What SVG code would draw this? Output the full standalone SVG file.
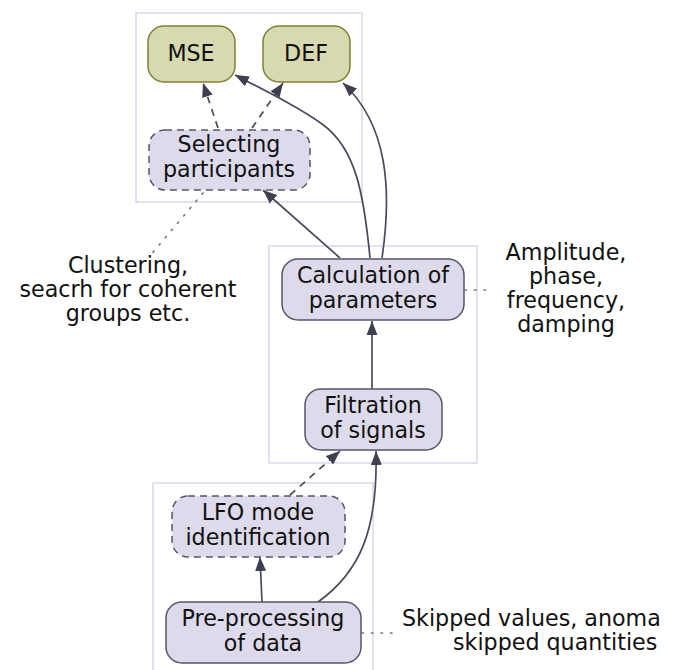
<svg xmlns="http://www.w3.org/2000/svg" width="674" height="670" viewBox="0 0 674 670">
<style>
text{font-family:"DejaVu Sans","Liberation Sans",sans-serif;font-size:22.2px;fill:#111;text-anchor:middle}
.cl{fill:none;stroke:#d9d8ec;stroke-width:1.5}
.n{fill:#dddbeb;stroke:#55556a;stroke-width:1.5}
.d{stroke-dasharray:7,5}
.g{fill:#d8d9b0;stroke:#7f8034;stroke-width:1.5}
.e{fill:none;stroke:#4a4a5c;stroke-width:1.7}
.ed{stroke-dasharray:7,6}
.dot{fill:none;stroke:#777;stroke-width:1.7;stroke-dasharray:1.5,8;stroke-linecap:round}
.ann{text-anchor:start}
</style>
<defs>
<marker id="ah" markerUnits="userSpaceOnUse" markerWidth="16" markerHeight="12" refX="14" refY="6" orient="auto">
<path d="M0,0.5 L14,6 L0,11.5 Z" fill="#3f3f52"/>
</marker>
</defs>
<g id="clusters">
<rect class="cl" x="136" y="13" width="226" height="189"/>
<rect class="cl" x="269" y="246" width="208" height="217"/>
<rect class="cl" x="153" y="483" width="220" height="200"/>
</g>
<g id="connectors">
<path class="e ed" d="M218,128 L203,83" marker-end="url(#ah)"/>
<path class="e ed" d="M252,128 L283,83" marker-end="url(#ah)"/>
<path class="e" d="M370,258 C364,195 356,148 322,124 C300,108 268,92 235,75" marker-end="url(#ah)"/>
<path class="e" d="M382,258 C392,190 388,125 343,83" marker-end="url(#ah)"/>
<path class="e" d="M340,258 L263,190" marker-end="url(#ah)"/>
<path class="e" d="M372,389 L372,321" marker-end="url(#ah)"/>
<path class="e ed" d="M290,495 L340,451" marker-end="url(#ah)"/>
<path class="e" d="M318,602 C360,572 378,530 376,451" marker-end="url(#ah)"/>
<path class="e" d="M262,602 L260,557" marker-end="url(#ah)"/>
<path class="dot" d="M203,193 L149,257"/>
<path class="dot" d="M465,290 L492,290"/>
<path class="dot" d="M362,633 L392,633"/>
</g>
<g id="MSE"><rect class="g" x="148" y="26" width="87" height="56" rx="16"/><text x="191" y="61">MSE</text></g>
<g id="DEF"><rect class="g" x="263" y="26" width="87" height="56" rx="16"/><text x="306" y="61">DEF</text></g>
<g id="selecting"><rect class="n d" x="149" y="130" width="161" height="60" rx="16"/><text x="229" y="152">Selecting</text><text x="229" y="177">participants</text></g>
<g id="calculation"><rect class="n" x="282" y="259" width="182" height="61" rx="16"/><text x="373" y="283">Calculation of</text><text x="373" y="308">parameters</text></g>
<g id="filtration"><rect class="n" x="305" y="389" width="137" height="61" rx="16"/><text x="373" y="413">Filtration</text><text x="373" y="438">of signals</text></g>
<g id="lfo"><rect class="n d" x="172" y="496" width="173" height="61" rx="16"/><text x="258" y="520">LFO mode</text><text x="258" y="545">identification</text></g>
<g id="preprocessing"><rect class="n" x="166" y="602" width="195" height="61" rx="16"/><text x="263" y="626">Pre-processing</text><text x="263" y="651">of data</text></g>
<g id="notes">
<text x="128" y="273">Clustering,</text>
<text x="128" y="297">seacrh for coherent</text>
<text x="128" y="321">groups etc.</text>
<text x="566" y="260">Amplitude,</text>
<text x="566" y="284">phase,</text>
<text x="566" y="308">frequency,</text>
<text x="566" y="332">damping</text>
<text class="ann" x="402" y="626">Skipped values, anoma</text>
<text class="ann" x="453" y="650">skipped quantities</text>
</g>
</svg>
